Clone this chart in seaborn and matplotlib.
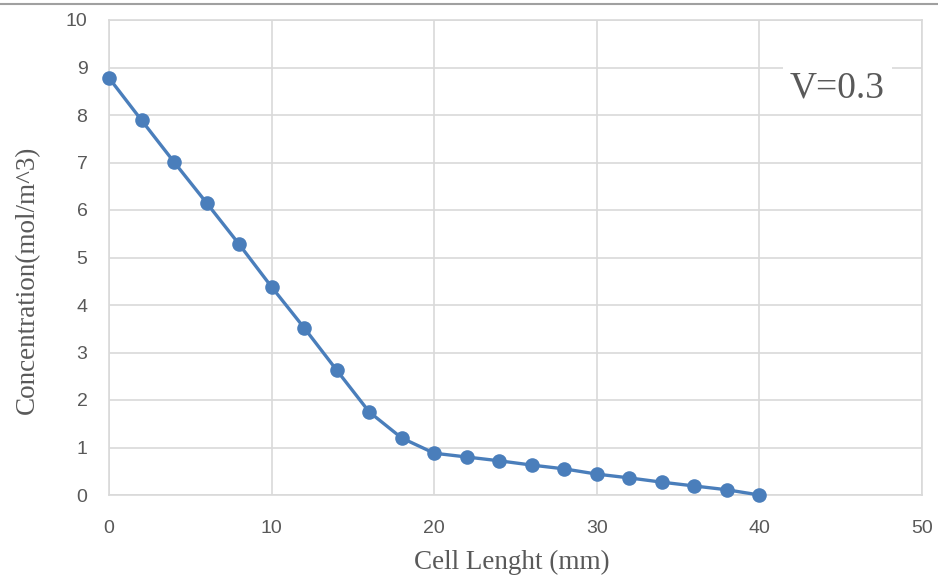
import matplotlib
matplotlib.use("Agg")
import matplotlib.pyplot as plt
import seaborn as sns
import pandas as pd
from matplotlib.lines import Line2D

cell_length = [0, 2, 4, 6, 8, 10, 12, 14, 16, 18, 20, 22, 24, 26, 28, 30, 32, 34, 36, 38, 40]
concentration = [8.78, 7.89, 7.01, 6.15, 5.28, 4.38, 3.52, 2.63, 1.75, 1.20, 0.88,
                 0.80, 0.72, 0.63, 0.55, 0.44, 0.36, 0.27, 0.19, 0.11, 0.0]
x_ticks = [0, 10, 20, 30, 40, 50]
y_ticks = list(range(0, 11))

df = pd.DataFrame({"x": cell_length, "y": concentration})

sns.set_theme(style="white")
plt.rcParams['font.family'] = ['Liberation Sans', 'DejaVu Sans']

fig = plt.figure(figsize=(9.38, 5.81), dpi=100)
ax = fig.add_axes([109/938, 1-495/581, (922-109)/938, (495-20)/581])

sns.lineplot(data=df, x="x", y="y", ax=ax, color="#4a7ebb", linewidth=2.4,
             marker="o", markersize=10.5, markeredgewidth=0, zorder=3, clip_on=False)

ax.set_xlim(0, 50)
ax.set_ylim(0, 10)
ax.set_xticks(x_ticks)
ax.set_yticks(y_ticks)
ax.grid(True, color="#d9d9d9", linewidth=1.2)
ax.set_axisbelow(True)
for s in ax.spines.values():
    s.set_color("#d9d9d9")
    s.set_linewidth(1.2)
ax.tick_params(axis="both", length=0, labelsize=14, colors="#595959")
ax.tick_params(axis="y", pad=15.5)
ax.tick_params(axis="x", pad=18)

ax.set_xlabel("Cell Lenght (mm)", family="Liberation Serif", fontsize=19.5, color="#595959")
ax.set_ylabel("Concentration(mol/m^3)", family="Liberation Serif", fontsize=19.5, color="#595959")
ax.xaxis.label.set_va("center")
ax.yaxis.label.set_va("center")
ax.xaxis.set_label_coords((512-109)/813, (495-562)/475)
ax.yaxis.set_label_coords((27-109)/813, (495-280)/475)

ax.text(44.8, 8.57, "V=0.3", family="Liberation Serif", fontsize=27, color="#595959",
        ha="center", va="center",
        bbox=dict(facecolor="white", edgecolor="none", pad=5))

fig.add_artist(Line2D([0, 1], [1-4/581, 1-4/581], color="#a0a0a0", linewidth=1.5,
                      transform=fig.transFigure))

fig.savefig("out.png", dpi=100)
